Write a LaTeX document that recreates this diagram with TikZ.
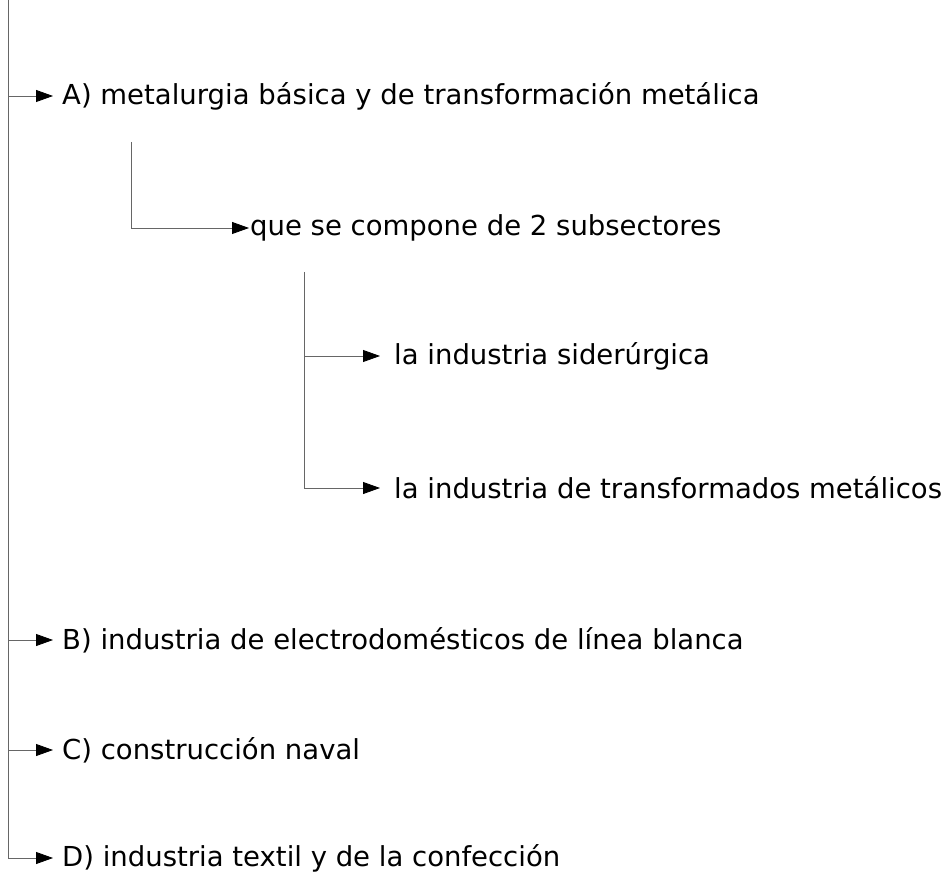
\documentclass[tikz,border=0pt]{standalone}
\usepackage{fontspec}
\setmainfont{DejaVu Sans}
\usetikzlibrary{arrows.meta}
\begin{document}
\begin{tikzpicture}[x=1pt,y=-1pt,
  lbl/.style={anchor=west,inner xsep=9pt,inner ysep=0pt,font=\fontsize{27.5}{32}\selectfont},
  conn/.style={draw=black!60,line width=0.8pt},
  arr/.style={conn,-{Triangle[length=17pt,width=12pt,black]}}]
\useasboundingbox (0,0) rectangle (942,890);
\node[lbl] (A) at (53,96) {A) metalurgia básica y de transformación metálica};
\node[lbl,inner xsep=1pt] (Q) at (249,228) {que se compone de 2 subsectores};
\node[lbl,inner xsep=14pt] (S1) at (380,356) {la industria siderúrgica};
\node[lbl,inner xsep=14pt] (S2) at (380,488) {la industria de transformados metálicos};
\node[lbl] (B) at (53,640) {B) industria de electrodomésticos de línea blanca};
\node[lbl] (C) at (53,750) {C) construcción naval};
\node[lbl] (D) at (53,858) {D) industria textil y de la confección};
\coordinate (top) at (8,0);
\coordinate (bot) at (8,858);
\coordinate (qtop) at (131,142);
\coordinate (stop) at (304,272);
\draw[conn] (top) -- (bot);
\draw[arr] (8,96) -- (A.west);
\draw[arr] (8,640) -- (B.west);
\draw[arr] (8,750) -- (C.west);
\draw[arr] (bot) -- (D.west);
\draw[arr] (qtop) |- (Q.west);
\draw[arr] (stop) |- (S2.west);
\draw[arr] (304,356) -- (S1.west);
\end{tikzpicture}
\end{document}
